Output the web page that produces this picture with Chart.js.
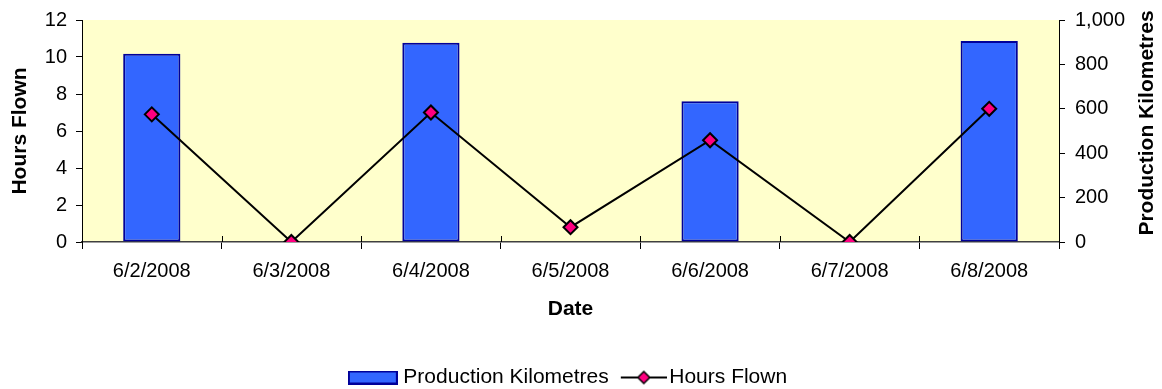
<!DOCTYPE html>
<html>
<head>
<meta charset="utf-8">
<script src="https://cdn.jsdelivr.net/npm/chart.js@4"></script>
<style>
  html, body { margin: 0; padding: 0; background: #fff; }
  #wrap { width: 1162px; height: 389px; }
</style>
</head>
<body>
<div id="wrap"><canvas id="c" width="1162" height="389"></canvas></div>
<script>
// Daily flight log
const dates = ['6/2/2008', '6/3/2008', '6/4/2008', '6/5/2008', '6/6/2008', '6/7/2008', '6/8/2008'];
const productionKm = [848, 0, 897, 0, 634, 0, 905];
const hoursFlown = [6.9, 0, 7.0, 0.8, 5.5, 0, 7.2];
const hoursTicks = [0, 2, 4, 6, 8, 10, 12];
const kmTicks = [0, 200, 400, 600, 800, 1000];
const seriesNames = ['Production Kilometres', 'Hours Flown'];
const axisTitles = { x: 'Date', left: 'Hours Flown', right: 'Production Kilometres' };

const FONT = "'Liberation Sans', Arial, sans-serif";
const BAR_FILL = '#3366FF';
const BAR_EDGE = '#000099';
const MARK_FILL = '#FF0080';
const PLOT_BG = '#FFFFCC';

Chart.defaults.font.family = FONT;
Chart.defaults.color = '#000';

// Legend swatches
function barSwatch() {
  const c = document.createElement('canvas');
  c.width = 50; c.height = 14;
  const g = c.getContext('2d');
  g.fillStyle = BAR_FILL;
  g.fillRect(0, 0, 50, 14);
  g.strokeStyle = BAR_EDGE;
  g.lineWidth = 2;
  g.strokeRect(1, 1, 48, 12);
  return c;
}
function lineSwatch() {
  const c = document.createElement('canvas');
  c.width = 56; c.height = 18;
  const g = c.getContext('2d');
  g.strokeStyle = '#000';
  g.lineWidth = 2;
  g.beginPath(); g.moveTo(10, 9); g.lineTo(56, 9); g.stroke();
  g.beginPath();
  g.moveTo(33, 3); g.lineTo(39, 9); g.lineTo(33, 15); g.lineTo(27, 9); g.closePath();
  g.fillStyle = MARK_FILL; g.fill();
  g.lineWidth = 1.5; g.stroke();
  return c;
}

const plotBackground = {
  id: 'plotBackground',
  beforeDraw(chart) {
    const { ctx, chartArea: a } = chart;
    ctx.save();
    ctx.fillStyle = '#fff';
    ctx.fillRect(0, 0, chart.width, chart.height);
    ctx.fillStyle = PLOT_BG;
    ctx.fillRect(a.left, a.top, a.right - a.left, a.bottom - a.top);
    ctx.restore();
  }
};

// Category tick marks cross the axis: draw the part inside the plot
const crossTicks = {
  id: 'crossTicks',
  beforeDatasetsDraw(chart) {
    const { ctx, chartArea: a } = chart;
    const xs = chart.scales.x;
    ctx.save();
    ctx.strokeStyle = '#000';
    ctx.lineWidth = 1;
    for (let i = 0; i <= dates.length; i++) {
      const px = Math.round(xs.getPixelForValue(i - 0.5)) + 0.5;
      ctx.beginPath();
      ctx.moveTo(px, a.bottom - 6);
      ctx.lineTo(px, a.bottom);
      ctx.stroke();
    }
    ctx.restore();
  }
};

// Right-hand axis title, reading bottom to top
const rightTitle = {
  id: 'rightTitle',
  afterDraw(chart) {
    const { ctx } = chart;
    ctx.save();
    ctx.translate(1147, 123);
    ctx.rotate(-Math.PI / 2);
    ctx.font = 'bold 21px ' + FONT;
    ctx.fillStyle = '#000';
    ctx.textAlign = 'center';
    ctx.textBaseline = 'middle';
    ctx.fillText(axisTitles.right, 0, 0);
    ctx.restore();
  }
};

new Chart(document.getElementById('c'), {
  data: {
    labels: dates,
    datasets: [
      {
        type: 'bar',
        label: seriesNames[0],
        data: productionKm,
        yAxisID: 'y2',
        backgroundColor: BAR_FILL,
        borderColor: BAR_EDGE,
        borderWidth: 2,
        borderSkipped: false,
        barPercentage: 0.41,
        categoryPercentage: 1.0,
        order: 2
      },
      {
        type: 'line',
        label: seriesNames[1],
        data: hoursFlown,
        yAxisID: 'y',
        borderColor: '#000',
        borderWidth: 2,
        tension: 0,
        pointStyle: 'rectRot',
        pointRadius: 7,
        pointBackgroundColor: MARK_FILL,
        pointBorderColor: '#000',
        pointBorderWidth: 2,
        order: 1
      }
    ]
  },
  options: {
    responsive: false,
    animation: false,
    layout: { padding: { top: 19.5, left: 0, right: 22, bottom: -9 } },
    plugins: {
      tooltip: { enabled: false },
      legend: {
        position: 'bottom',
        labels: {
          usePointStyle: true,
          pointStyleWidth: 40,
          boxHeight: 14,
          padding: 10,
          font: { size: 21 },
          color: '#000',
          generateLabels: () => [
            { text: seriesNames[0], pointStyle: barSwatch(), fillStyle: BAR_FILL, strokeStyle: BAR_EDGE, lineWidth: 0, datasetIndex: 0 },
            { text: seriesNames[1], pointStyle: lineSwatch(), fillStyle: MARK_FILL, strokeStyle: '#000', lineWidth: 0, datasetIndex: 1 }
          ]
        }
      }
    },
    scales: {
      x: {
        type: 'category',
        offset: true,
        grid: { offset: true, drawOnChartArea: false, drawTicks: true, tickLength: 7, color: '#000' },
        border: { display: true, color: '#404040', width: 1.5 },
        ticks: { font: { size: 20 }, padding: 10, maxRotation: 0, autoSkip: false },
        title: { display: true, text: axisTitles.x, font: { size: 21, weight: 'bold' }, padding: { top: 0, bottom: 35 } },
        afterFit: (s) => { s.height = 115; }
      },
      y: {
        position: 'left',
        min: 0, max: 12,
        afterBuildTicks: (s) => { s.ticks = hoursTicks.map(v => ({ value: v })); },
        grid: { drawOnChartArea: false, drawTicks: true, tickLength: 6, color: '#000' },
        border: { display: true, color: '#000', width: 1 },
        ticks: { font: { size: 20, lineHeight: 1 }, padding: 9 },
        title: { display: true, text: axisTitles.left, font: { size: 21, weight: 'bold' }, padding: { top: 8, bottom: 0 } },
        afterFit: (s) => { s.width = 82; }
      },
      y2: {
        position: 'right',
        min: 0, max: 1000,
        afterBuildTicks: (s) => { s.ticks = kmTicks.map(v => ({ value: v })); },
        grid: { drawOnChartArea: false, drawTicks: true, tickLength: 6, color: '#000' },
        border: { display: true, color: '#000', width: 1 },
        ticks: { font: { size: 20, lineHeight: 1 }, padding: 10, callback: (v) => v.toLocaleString('en-US') },
        afterFit: (s) => { s.width = 81; }
      }
    }
  },
  plugins: [plotBackground, crossTicks, rightTitle]
});
</script>
</body>
</html>
